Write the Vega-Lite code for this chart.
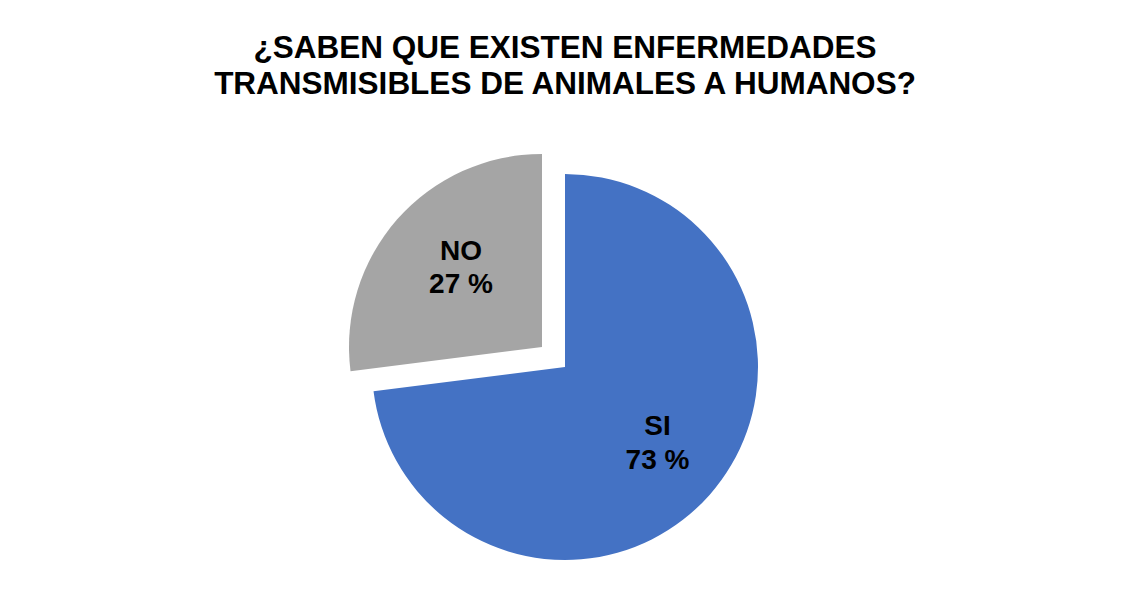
{
  "$schema": "https://vega.github.io/schema/vega-lite/v6.json",
  "width": 1120,
  "height": 446,
  "autosize": {"type": "none"},
  "padding": {"left": 5, "top": 144, "right": 0, "bottom": 0},
  "background": "white",
  "config": {"view": {"stroke": null}},
  "title": {
    "text": ["¿SABEN QUE EXISTEN ENFERMEDADES", "TRANSMISIBLES DE ANIMALES A HUMANOS?"],
    "font": "Liberation Sans",
    "fontSize": 31.5,
    "fontWeight": "bold",
    "color": "black",
    "lineHeight": 36,
    "anchor": "middle",
    "offset": 44
  },
  "data": {
    "values": [
      {"respuesta": "SI", "porcentaje": 73, "orden": 1},
      {"respuesta": "NO", "porcentaje": 27, "orden": 2}
    ]
  },
  "transform": [
    {"stack": "porcentaje", "groupby": [], "sort": [{"field": "orden"}], "as": ["inicio", "fin"]},
    {"calculate": "(datum.inicio + datum.fin) / 2", "as": "medio"},
    {"calculate": "[datum.respuesta, datum.porcentaje + ' %']", "as": "etiqueta"}
  ],
  "layer": [
    {
      "transform": [{"filter": "datum.respuesta == 'SI'"}],
      "mark": {"type": "arc", "outerRadius": 193, "color": "#4472C4"},
      "encoding": {
        "theta": {"field": "inicio", "type": "quantitative", "scale": {"domain": [0, 100]}},
        "theta2": {"field": "fin"}
      }
    },
    {
      "transform": [{"filter": "datum.respuesta == 'NO'"}],
      "mark": {"type": "arc", "outerRadius": 193, "color": "#A5A5A5", "xOffset": -23, "yOffset": -20},
      "encoding": {
        "theta": {"field": "inicio", "type": "quantitative", "scale": {"domain": [0, 100]}},
        "theta2": {"field": "fin"}
      }
    },
    {
      "transform": [{"filter": "datum.respuesta == 'SI'"}],
      "mark": {"type": "text", "radius": 120, "font": "Liberation Sans", "fontSize": 28, "fontWeight": "bold", "color": "black", "align": "center", "baseline": "middle", "lineHeight": 34, "dx": 2.5, "dy": -19},
      "encoding": {
        "theta": {"field": "medio", "type": "quantitative", "scale": {"domain": [0, 100]}},
        "text": {"field": "etiqueta"}
      }
    },
    {
      "transform": [{"filter": "datum.respuesta == 'NO'"}],
      "mark": {"type": "text", "radius": 116, "font": "Liberation Sans", "fontSize": 28, "fontWeight": "bold", "color": "black", "align": "center", "baseline": "middle", "lineHeight": 33, "xOffset": -23, "yOffset": -20, "dx": 6, "dy": -18.5},
      "encoding": {
        "theta": {"field": "medio", "type": "quantitative", "scale": {"domain": [0, 100]}},
        "text": {"field": "etiqueta"}
      }
    }
  ]
}
